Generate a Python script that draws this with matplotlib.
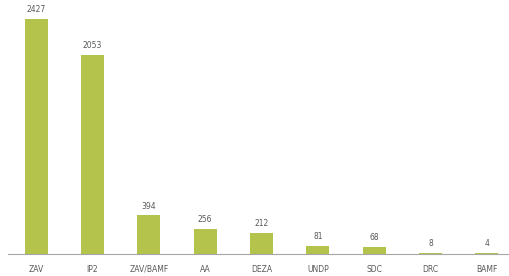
import matplotlib.pyplot as plt

categories = ['ZAV', 'IP2', 'ZAV/BAMF', 'AA', 'DEZA', 'UNDP', 'SDC', 'DRC', 'BAMF']
values = [2427, 2053, 394, 256, 212, 81, 68, 8, 4]

bar_color = '#b3c34b'
text_color = '#595959'

fig = plt.figure(figsize=(5.10, 2.76), dpi=100)
ax = fig.add_axes([8 / 510, 22.5 / 276, 502 / 510, 253.5 / 276])

x = range(len(categories))
ax.bar(x, values, width=0.41, color=bar_color)

for i, v in enumerate(values):
    ax.text(i, v + 50, str(v), ha='center', va='bottom', fontsize=5.5, color=text_color)

ax.set_xlim(-0.5, 8.41)
ax.set_ylim(0, 2624)
ax.set_xticks(list(x))
ax.set_xticklabels(categories, fontsize=5.5, color=text_color)
ax.tick_params(axis='x', length=0, pad=8)
ax.set_yticks([])

for side in ['top', 'right', 'left']:
    ax.spines[side].set_visible(False)
ax.spines['bottom'].set_color('#a6a6a6')
ax.spines['bottom'].set_linewidth(0.8)

fig.savefig('out.png', dpi=100)
